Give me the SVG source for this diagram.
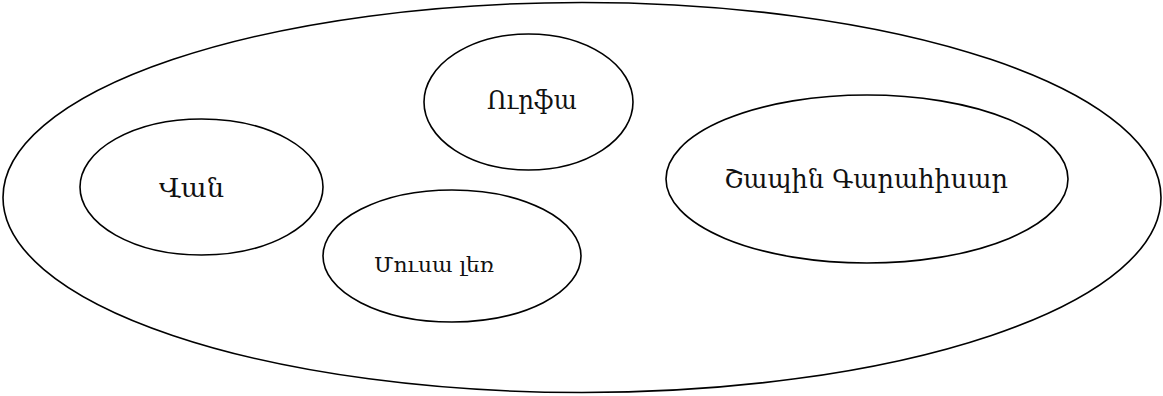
<svg xmlns="http://www.w3.org/2000/svg" width="1163" height="396" viewBox="0 0 1163 396">
<style>
.e{fill:none;stroke:#000;stroke-width:1.6}
.t{font-family:"DejaVu Serif","Noto Sans",serif;fill:#111;text-anchor:middle}
</style>
<rect width="1163" height="396" fill="#fff"/>
<g id="outer"><ellipse class="e" cx="582" cy="197.5" rx="579" ry="195"/></g>
<g id="urfa"><ellipse class="e" cx="528.5" cy="102" rx="104.5" ry="68"/><text class="t" x="532" y="109" font-size="26" textLength="90" lengthAdjust="spacingAndGlyphs">Ուրֆա</text></g>
<g id="van"><ellipse class="e" cx="201.5" cy="187" rx="121.5" ry="68"/><text class="t" x="191.5" y="197" font-size="26" textLength="65" lengthAdjust="spacingAndGlyphs">Վան</text></g>
<g id="mousa"><ellipse class="e" cx="452" cy="256" rx="129" ry="66"/><text class="t" x="434" y="272" font-size="21" textLength="120" lengthAdjust="spacingAndGlyphs">Մուսա լեռ</text></g>
<g id="shapin"><ellipse class="e" cx="867" cy="179" rx="201" ry="84"/><text class="t" x="866" y="188" font-size="26" textLength="284" lengthAdjust="spacingAndGlyphs">Շապին Գարահիսար</text></g>
<g id="connectors"></g>
</svg>
